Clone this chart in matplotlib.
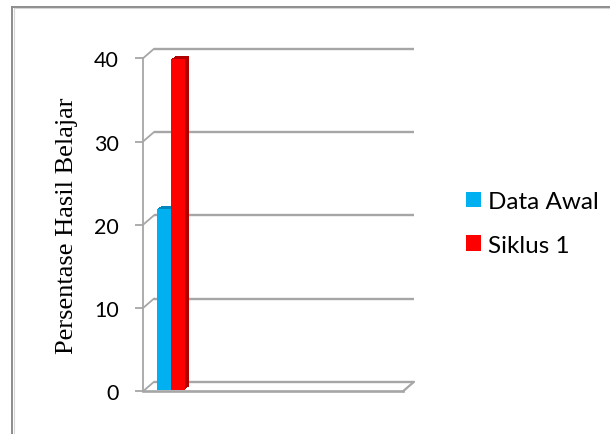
import matplotlib
matplotlib.use("Agg")
import matplotlib.pyplot as plt
from matplotlib.lines import Line2D
from matplotlib.patches import Patch
from matplotlib.transforms import ScaledTranslation

# ---- data -------------------------------------------------------------
series_names = ["Data Awal", "Siklus 1"]
series_values = [21.7, 39.7]
series_colors = ["#00B0F0", "#FF0000"]
side_colors = ["#0088BC", "#B00000"]
y_ticks = [0, 10, 20, 30, 40]
y_label = "Persentase Hasil Belajar"
n_slots = 5          # category slots along the floor; the first one holds the bars

# ---- figure / axes ----------------------------------------------------
DPI = 100
W, H = 610, 435
fig = plt.figure(figsize=(W / DPI, H / DPI), dpi=DPI)
fig.patch.set_facecolor("white")
ax = fig.add_axes([143 / W, (H - 392.3) / H, 260 / W, 333 / H])
ax.set_xlim(-0.5, n_slots - 0.5)
ax.set_ylim(0, 40)
ax.patch.set_visible(False)

grid_col = "#A6A6A6"
for s in ("top", "right", "bottom"):
    ax.spines[s].set_visible(False)
ax.spines["left"].set_color(grid_col)
ax.spines["left"].set_linewidth(1.3)
ax.set_xticks([])
ax.set_yticks(y_ticks)
ax.tick_params(axis="y", length=6, width=1.3, color=grid_col, pad=11.5,
               labelsize=15.5, labelcolor="black")
for lab in ax.get_yticklabels():
    lab.set_fontfamily("Lato")

# depth of the back wall (in points)
DX, DY = 11 * 72 / DPI, 9.5 * 72 / DPI
back = ax.transData + ScaledTranslation(DX / 72, DY / 72, fig.dpi_scale_trans)
x0, x1 = ax.get_xlim()

# back-wall gridlines with their left-wall diagonals
for v in y_ticks:
    ax.plot([x0, x1], [v, v], transform=back, color=grid_col, lw=1.7,
            clip_on=False, zorder=1, solid_capstyle="butt")
    ax.annotate("", xy=(x0, v), xytext=(DX, DY), xycoords="data",
                textcoords="offset points",
                arrowprops=dict(arrowstyle="-", color=grid_col, lw=1.3,
                                shrinkA=0, shrinkB=0), zorder=1,
                annotation_clip=False)

# floor front edge and right edge
ax.plot([x0, x1], [0, 0], color=grid_col, lw=1.9, clip_on=False, zorder=1)
ax.annotate("", xy=(x1, 0), xytext=(DX, DY), xycoords="data",
            textcoords="offset points",
            arrowprops=dict(arrowstyle="-", color=grid_col, lw=1.6,
                            shrinkA=0, shrinkB=0), zorder=1,
            annotation_clip=False)

# ---- bars with a shallow extrusion -----------------------------------
bw = 0.265
xpos = [-bw / 2, bw / 2]
front_off = (2.0, 1.7)      # px, bars sit slightly behind the front plane
depth_steps = 4
for i, (val, c, sc) in enumerate(zip(series_values, series_colors, side_colors)):
    for k in range(depth_steps, 0, -1):
        off = ScaledTranslation((front_off[0] + k) / DPI,
                                (front_off[1] + 0.75 * k) / DPI,
                                fig.dpi_scale_trans)
        b = ax.bar([xpos[i]], [val], width=bw, color=sc, zorder=3 + i * 2,
                   linewidth=0)
        b.patches[0].set_transform(ax.transData + off)
        b.patches[0].set_clip_on(False)
    off = ScaledTranslation(front_off[0] / DPI, front_off[1] / DPI,
                            fig.dpi_scale_trans)
    b = ax.bar([xpos[i]], [val], width=bw, color=c, zorder=4 + i * 2,
               linewidth=0)
    b.patches[0].set_transform(ax.transData + off)
    b.patches[0].set_clip_on(False)

# ---- axis title --------------------------------------------------------
fig.text(67 / W, 1 - 225.5 / H, y_label, rotation=90, ha="center",
         va="center", fontsize=19, family="Liberation Serif", color="black")

# ---- legend ------------------------------------------------------------
handles = [Patch(facecolor=c, edgecolor="none") for c in series_colors]
fig.legend(handles, series_names, loc="upper left",
           bbox_to_anchor=(466 / W, 1 - 192 / H), frameon=False,
           prop={"family": "Lato", "size": 17.5}, handlelength=0.62,
           handleheight=0.62, handletextpad=0.3, labelspacing=0.93,
           borderpad=0, borderaxespad=0)

# ---- outer chart-area border ------------------------------------------
bx, by = 12.5 / W, 1 - 7.5 / H
fig.add_artist(Line2D([bx, bx], [0, by], color="#8C8C8C", lw=1.4))
fig.add_artist(Line2D([bx, 1], [by, by], color="#8C8C8C", lw=1.4))
bx2, by2 = 14 / W, 1 - 9 / H
fig.add_artist(Line2D([bx2, bx2], [0, by2], color="#D6D6D6", lw=0.8))
fig.add_artist(Line2D([bx2, 1], [by2, by2], color="#D6D6D6", lw=0.8))

fig.savefig("out.png", dpi=DPI)
